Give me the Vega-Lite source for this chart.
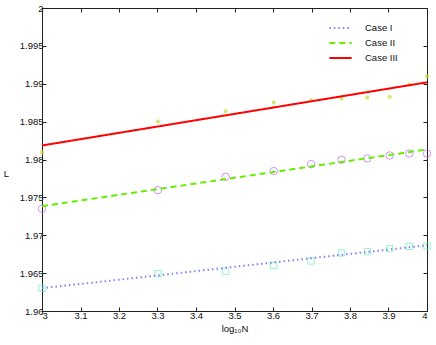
{
  "$schema": "https://vega.github.io/schema/vega-lite/v6.json",
  "autosize": {"type": "none"},
  "width": 385,
  "height": 303,
  "padding": {"left": 42, "top": 8, "right": 9, "bottom": 34},
  "background": "white",
  "config": {
    "view": {"stroke": "#222", "strokeWidth": 1},
    "font": "Liberation Sans",
    "axis": {"grid": false, "domainColor": "#222", "tickColor": "#222", "tickSize": -4, "labelFontSize": 9.5, "labelColor": "#111", "titleFontWeight": "normal", "titleFontSize": 9.5, "titleColor": "#111", "labelFont": "Liberation Sans", "titleFont": "Liberation Sans"}
  },
  "datasets": {
    "lines": [
      {"x": 3, "L": 1.9630, "case": "Case I"},
      {"x": 4, "L": 1.96867, "case": "Case I"},
      {"x": 3, "L": 1.97384, "case": "Case II"},
      {"x": 4, "L": 1.98133, "case": "Case II"},
      {"x": 3, "L": 1.98185, "case": "Case III"},
      {"x": 4, "L": 1.99019, "case": "Case III"}
    ],
    "points": [
      {"x": 3.0, "L": 1.9630, "case": "Case I"},
      {"x": 3.301, "L": 1.96494, "case": "Case I"},
      {"x": 3.477, "L": 1.96524, "case": "Case I"},
      {"x": 3.602, "L": 1.9660, "case": "Case I"},
      {"x": 3.699, "L": 1.96661, "case": "Case I"},
      {"x": 3.778, "L": 1.96766, "case": "Case I"},
      {"x": 3.845, "L": 1.96784, "case": "Case I"},
      {"x": 3.903, "L": 1.96824, "case": "Case I"},
      {"x": 3.954, "L": 1.96854, "case": "Case I"},
      {"x": 4.0, "L": 1.96858, "case": "Case I"},
      {"x": 3.0, "L": 1.97351, "case": "Case II"},
      {"x": 3.301, "L": 1.97596, "case": "Case II"},
      {"x": 3.477, "L": 1.97772, "case": "Case II"},
      {"x": 3.602, "L": 1.97847, "case": "Case II"},
      {"x": 3.699, "L": 1.97939, "case": "Case II"},
      {"x": 3.778, "L": 1.97997, "case": "Case II"},
      {"x": 3.845, "L": 1.98014, "case": "Case II"},
      {"x": 3.903, "L": 1.98053, "case": "Case II"},
      {"x": 3.954, "L": 1.9808, "case": "Case II"},
      {"x": 4.0, "L": 1.9808, "case": "Case II"},
      {"x": 3.0, "L": 1.98097, "case": "Case III"},
      {"x": 3.301, "L": 1.98501, "case": "Case III"},
      {"x": 3.477, "L": 1.98637, "case": "Case III"},
      {"x": 3.602, "L": 1.98752, "case": "Case III"},
      {"x": 3.699, "L": 1.98782, "case": "Case III"},
      {"x": 3.778, "L": 1.98805, "case": "Case III"},
      {"x": 3.845, "L": 1.98818, "case": "Case III"},
      {"x": 3.903, "L": 1.98827, "case": "Case III"},
      {"x": 3.954, "L": 1.98989, "case": "Case III"},
      {"x": 4.0, "L": 1.99095, "case": "Case III"}
    ]
  },
  "layer": [
    {
      "data": {"name": "points"},
      "transform": [{"filter": "datum.case === 'Case I'"}],
      "mark": {"type": "point", "shape": "square", "filled": false, "stroke": "#66eebb", "strokeWidth": 1, "size": 40, "clip": false},
      "encoding": {
        "x": {"field": "x", "type": "quantitative", "scale": {"domain": [3, 4], "nice": false}, "axis": {"title": "log₁₀N", "values": [3, 3.1, 3.2, 3.3, 3.4, 3.5, 3.6, 3.7, 3.8, 3.9, 4], "format": "~g", "labelPadding": 3, "titlePadding": 4}},
        "y": {"field": "L", "type": "quantitative", "scale": {"domain": [1.96, 2], "nice": false, "zero": false}, "axis": {"title": "L", "titleAngle": 0, "titleX": -36, "titleY": 170, "values": [1.96, 1.965, 1.97, 1.975, 1.98, 1.985, 1.99, 1.995, 2], "format": "~g", "labelPadding": 3}}
      }
    },
    {
      "data": {"name": "points"},
      "transform": [{"filter": "datum.case === 'Case II'"}],
      "mark": {"type": "point", "shape": "circle", "filled": false, "stroke": "#bb66ee", "strokeWidth": 1, "size": 55, "clip": false},
      "encoding": {
        "x": {"field": "x", "type": "quantitative", "axis": null},
        "y": {"field": "L", "type": "quantitative", "axis": null}
      }
    },
    {
      "data": {"name": "points"},
      "transform": [{"filter": "datum.case === 'Case III'"}],
      "mark": {"type": "point", "shape": "M-1,0L1,0M0,-1L0,1M-0.7,-0.7L0.7,0.7M-0.7,0.7L0.7,-0.7", "filled": false, "stroke": "#c8dd30", "strokeWidth": 1.5, "size": 16, "clip": false},
      "encoding": {
        "x": {"field": "x", "type": "quantitative", "axis": null},
        "y": {"field": "L", "type": "quantitative", "axis": null}
      }
    },
    {
      "data": {"name": "lines"},
      "mark": {"type": "line", "strokeWidth": 2},
      "encoding": {
        "x": {"field": "x", "type": "quantitative", "axis": null},
        "y": {"field": "L", "type": "quantitative", "axis": null},
        "color": {"field": "case", "type": "nominal", "scale": {"domain": ["Case I", "Case II", "Case III"], "range": ["#7f7fff", "#66ee00", "#ff0000"]}, "legend": {"title": null, "orient": "none", "legendX": 286, "legendY": 14, "padding": 0, "symbolType": "stroke", "symbolSize": 500, "symbolStrokeWidth": 2, "clipHeight": 12, "labelFontSize": 9.5, "labelFont": "Liberation Sans", "labelColor": "#111", "rowPadding": 3, "labelOffset": 12}},
        "strokeDash": {"field": "case", "type": "nominal", "scale": {"domain": ["Case I", "Case II", "Case III"], "range": [[1.5, 3], [6, 4], [1, 0]]}, "legend": null}
      }
    },
    {
      "data": {"name": "lines"},
      "mark": {"type": "point", "opacity": 0},
      "encoding": {
        "x": {"field": "x", "type": "quantitative", "axis": {"orient": "top", "title": null, "labels": false, "values": [3, 3.1, 3.2, 3.3, 3.4, 3.5, 3.6, 3.7, 3.8, 3.9, 4]}},
        "y": {"field": "L", "type": "quantitative", "axis": {"orient": "right", "title": null, "labels": false, "values": [1.96, 1.965, 1.97, 1.975, 1.98, 1.985, 1.99, 1.995, 2]}}
      }
    }
  ],
  "resolve": {"axis": {"x": "independent", "y": "independent"}}
}
